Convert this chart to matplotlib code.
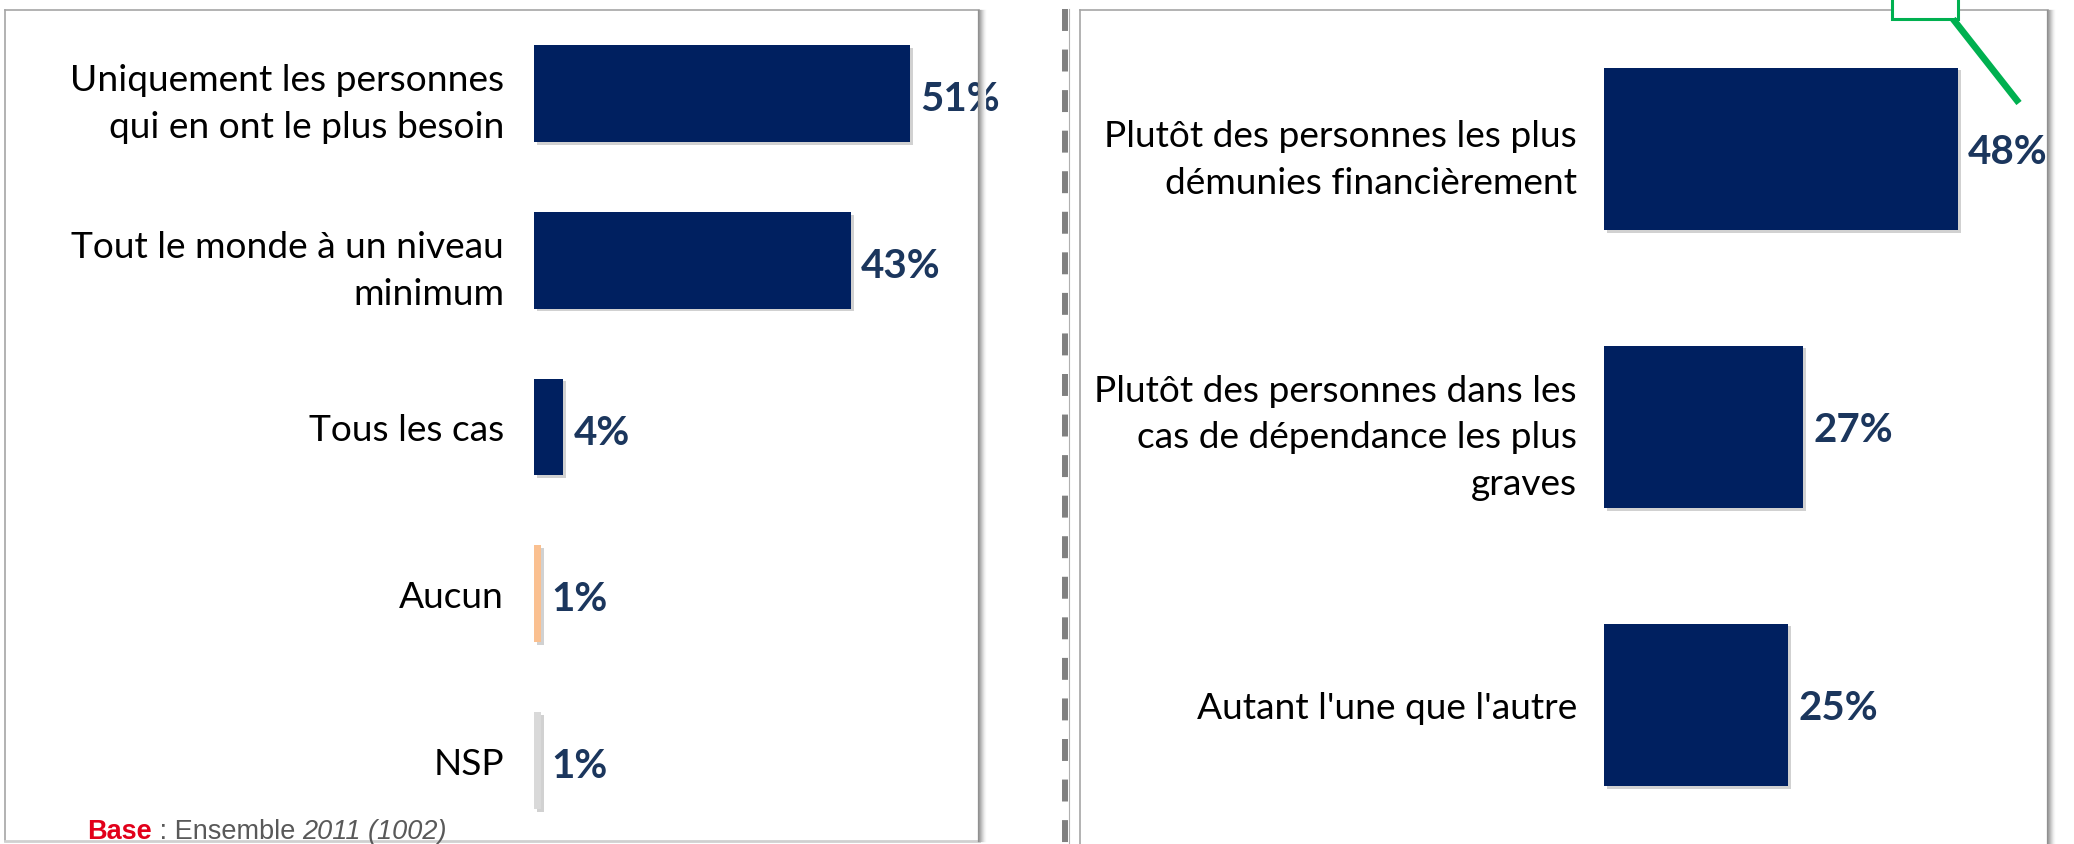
import matplotlib.pyplot as plt
import matplotlib.patheffects as pe
from matplotlib.lines import Line2D
from matplotlib.patches import Rectangle

plt.rcParams['lines.scale_dashes'] = False

# left panel
left_labels = ['Uniquement les personnes\nqui en ont le plus besoin',
               'Tout le monde à un niveau\nminimum',
               'Tous les cas',
               'Aucun',
               'NSP']
left_values = [51, 43, 4, 1, 1]
left_colors = ['#002060', '#002060', '#002060', '#FAC090', '#D9D9D9']

# right panel
right_labels = ['Plutôt des personnes les plus\ndémunies financièrement',
                'Plutôt des personnes dans les\ncas de dépendance les plus\ngraves',
                "Autant l'une que l'autre"]
right_values = [48, 27, 25]
right_colors = ['#002060', '#002060', '#002060']

W, H = 2074, 845
fig = plt.figure(figsize=(W / 100, H / 100), dpi=100)


def fx(x):
    return x / W


def fy(y):
    return 1 - y / H


def fig_line(xs, ys, **kw):
    fig.add_artist(Line2D([fx(x) for x in xs], [fy(y) for y in ys],
                          transform=fig.transFigure, **kw))


def right_shadow(x, y0, y1):
    shades = ['#8f8f8f', '#9c9c9c', '#acacac', '#bdbdbd', '#cecece', '#dedede', '#ececec', '#f6f6f6']
    for k, c in enumerate(shades):
        fig_line([x + k, x + k], [y0, y1], color=c, lw=0.9)


# panel frames
fig_line([5, 979], [11, 11], color='#a6a6a6', lw=1.2)
fig_line([5, 5], [11, 842], color='#a6a6a6', lw=1.2)
fig_line([5, 979], [842, 842], color='#d0d0d0', lw=2)
right_shadow(978, 11, 842)
fig_line([1080, 2048], [11, 11], color='#a6a6a6', lw=1.2)
fig_line([1080, 1080], [11, 845], color='#a6a6a6', lw=1.2)
right_shadow(2047, 11, 845)

# dashed divider
fig_line([1065, 1065], [10, 845], color='#808080', lw=4.3, linestyle=(0, (15.8, 13.4)))
fig_line([1068.5, 1068.5], [10, 845], color='#b0b0b0', lw=0.8)


def panel(x0, x1, y0, y1, labels, values, colors, height, pad, dy):
    ax = fig.add_axes([fx(x0), fy(y1), fx(x1) - fx(x0), fy(y0) - fy(y1)])
    ax.patch.set_alpha(0)
    n = len(values)
    bars = ax.barh(range(n), values, height=height, color=colors)
    for b in bars:
        b.set_path_effects([pe.SimplePatchShadow(offset=(2, -2), shadow_rgbFace='#000000', alpha=0.18),
                            pe.Normal()])
    for i, v in enumerate(values):
        ax.text(v + 1.4, i + dy, f'{v}%', va='center', ha='left',
                fontsize=29, fontweight='bold', color='#1B365D', family='Lato')
    ax.set_xlim(0, (x1 - x0) / 7.37)
    ax.set_ylim(n - 0.5, -0.5)
    ax.set_yticks(range(n), labels, fontsize=26.7, family='Lato', linespacing=1.5)
    ax.tick_params(axis='y', length=0, pad=pad)
    ax.set_xticks([])
    for s in ax.spines.values():
        s.set_visible(False)
    return ax


panel(534, 979, 11, 845, left_labels, left_values, left_colors, 0.58, 21.6, 0.03)
panel(1604, 2048, 11, 845, right_labels, right_values, right_colors, 0.585, 19.4, 0.01)

# green callout
fig.add_artist(Rectangle((fx(1892), fy(20)), fx(1958) - fx(1892), fy(-5) - fy(20),
                         transform=fig.transFigure, facecolor='white',
                         edgecolor='#00B050', lw=2.2, zorder=5))
fig_line([1953, 2019], [20, 104], color='#00B050', lw=4.8, solid_capstyle='butt', zorder=5)

# base note
base_y = fy(839)
t1 = fig.text(fx(87), base_y, 'Base', color='#E2001A', fontsize=19.5, fontweight='bold',
              family='Liberation Sans', va='baseline')
t2 = fig.text(0, base_y, ' : Ensemble ', color='#595959', fontsize=19.5,
              family='Liberation Sans', va='baseline')
t3 = fig.text(0, base_y, '2011 (1002)', color='#595959', fontsize=19.5, style='italic',
              family='Liberation Sans', va='baseline')
fig.canvas.draw()
r = fig.canvas.get_renderer()
t2.set_x(t1.get_window_extent(r).x1 / W)
fig.canvas.draw()
t3.set_x(t2.get_window_extent(r).x1 / W)

fig.savefig('out.png', dpi=100)
